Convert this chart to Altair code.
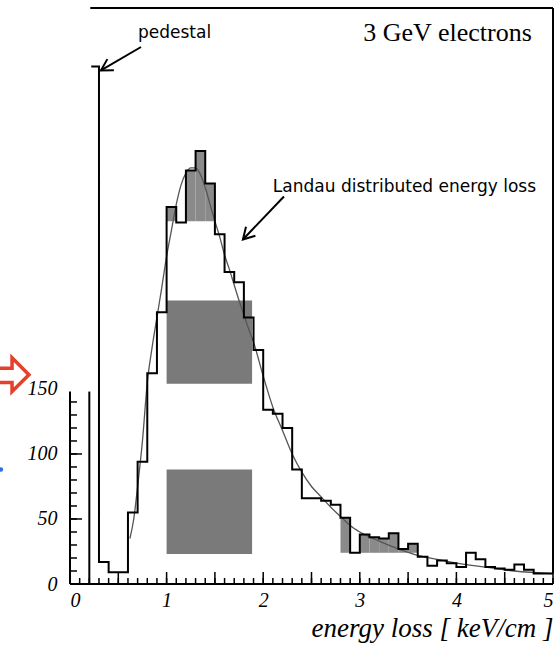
import altair as alt
import numpy as np
import pandas as pd

# ---------------------------------------------------------------------------
# Data: dE/dx spectrum of 3 GeV electrons, 0.1 keV/cm bins
# ---------------------------------------------------------------------------
bin_left = [0.2, 0.3, 0.4, 0.5, 0.6, 0.7, 0.8, 0.9,
            1.0, 1.1, 1.2, 1.3, 1.4, 1.5, 1.6, 1.7, 1.8, 1.9,
            2.0, 2.1, 2.2, 2.3, 2.4, 2.5, 2.6, 2.7, 2.8, 2.9,
            3.0, 3.1, 3.2, 3.3, 3.4, 3.5, 3.6, 3.7, 3.8, 3.9,
            4.0, 4.1, 4.2, 4.3, 4.4, 4.5, 4.6, 4.7, 4.8, 4.9]
bin_counts = [398, 17, 9, 9, 55, 94, 162, 209,
              290, 278, 318, 333, 308, 269, 240, 232, 205, 180,
              134, 131, 120, 88, 66, 66, 64, 61, 51, 24,
              38, 36, 35, 39, 27, 31, 21, 14, 18, 16,
              13, 24, 19, 13, 12, 11, 15, 11, 8, 8]
BIN_W = 0.1

# Landau fit to the spectrum
fit_x = [0.62, 0.66, 0.70, 0.75, 0.80, 0.85, 0.90, 0.95, 1.00, 1.05, 1.10,
         1.15, 1.20, 1.25, 1.30, 1.35, 1.40, 1.45, 1.50, 1.55, 1.60, 1.65,
         1.70, 1.75, 1.80, 1.85, 1.90, 2.00, 2.10, 2.20, 2.30, 2.40, 2.50,
         2.60, 2.70, 2.80, 2.90, 3.00, 3.20, 3.40, 3.60, 3.80, 4.00, 4.30,
         4.60, 5.00]
fit_y = [35, 50, 75, 110, 155, 182, 205, 228, 252, 272, 292,
         307, 316, 320, 320, 315, 305, 292, 279, 267, 253, 242,
         230, 218, 207, 196, 186, 160, 136, 118, 100, 86, 75,
         67, 59, 52, 45, 40, 33, 27, 22, 19, 16, 13,
         10, 8]

# bins drawn hatched above a floor level
shade_peak_bins = [1.0, 1.2, 1.3, 1.4]
shade_peak_floor = 279
shade_tail_bins = [2.8, 3.0, 3.1, 3.2, 3.3, 3.4, 3.5]
shade_tail_floor = 24

# hatched boxes inside the peak region
box_x0 = [1.0, 1.0]
box_x1 = [1.885, 1.885]
box_y0 = [154, 23]
box_y1 = [218, 88]

# axis ticks and labels
x_labels = [0, 1, 2, 3, 4, 5]
x_minor = [round(0.1 * i, 1) for i in range(51)]
x_major = [round(0.5 * i, 1) for i in range(11)]
y_labels = [0, 50, 100, 150]
y_minor = [10 * i for i in range(15)]
y_major = [0, 50, 100]

LOWER_TOP = 148          # the lower panel's y axis ends here
PEDESTAL_TOP_FROM = 0.22
FRAME_TOP = 443
FRAME_LEFT = 0.21
FRAME_BOTTOM_RIGHT = 8

# ---------------------------------------------------------------------------
W, H = 483, 576
X_DOM = [0, 5]
Y_DOM = [0, FRAME_TOP]
PX_X = W / (X_DOM[1] - X_DOM[0])
PX_Y = H / (Y_DOM[1] - Y_DOM[0])

xs = alt.Scale(domain=X_DOM, nice=False, zero=False)
ys = alt.Scale(domain=Y_DOM, nice=False, zero=False)

SERIF = "Liberation Serif"
SANS = "DejaVu Sans"

x_axis = alt.Axis(
    values=x_labels, ticks=False, grid=False, domain=False,
    labelFont=SERIF, labelFontStyle="italic", labelFontSize=20, labelColor="black", labelPadding=6,
    title="energy loss [ keV/cm ]", titleFont=SERIF, titleFontStyle="italic", titleFontWeight="normal",
    titleFontSize=27, titleColor="black", titleAnchor="end", titlePadding=5)
y_axis = alt.Axis(
    values=y_labels, ticks=False, grid=False, domain=False,
    labelFont=SERIF, labelFontStyle="italic", labelFontSize=20, labelColor="black", labelPadding=13,
    title="")

counts = dict(zip(bin_left, bin_counts))

# histogram outline as a polyline
pts = [(PEDESTAL_TOP_FROM, bin_counts[0]), (bin_left[0] + BIN_W, bin_counts[0])]
for l, c in zip(bin_left[1:], bin_counts[1:]):
    pts.append((l, c))
    pts.append((round(l + BIN_W, 2), c))
outline = pd.DataFrame({"x": [p[0] for p in pts], "y": [p[1] for p in pts],
                        "o": list(range(len(pts)))})

shade = pd.DataFrame(
    [{"x0": b, "x1": b + BIN_W, "y0": shade_peak_floor, "y1": counts[b]} for b in shade_peak_bins]
    + [{"x0": b, "x1": b + BIN_W, "y0": shade_tail_floor, "y1": counts[b]} for b in shade_tail_bins]
)
boxes = pd.DataFrame({"x0": box_x0, "x1": box_x1, "y0": box_y0, "y1": box_y1})
fit = pd.DataFrame({"x": fit_x, "y": fit_y})

# frame pieces: top and right border, x axis line, short y axis, cut pedestal edge
frame = pd.DataFrame([
    {"x": FRAME_LEFT, "x2": X_DOM[1], "y": FRAME_TOP, "y2": FRAME_TOP},
    {"x": X_DOM[1], "x2": X_DOM[1], "y": FRAME_BOTTOM_RIGHT, "y2": FRAME_TOP},
    {"x": X_DOM[0], "x2": X_DOM[1], "y": 0, "y2": 0},
    {"x": 0, "x2": 0, "y": 0, "y2": LOWER_TOP},
    {"x": bin_left[0], "x2": bin_left[0], "y": 0, "y2": LOWER_TOP},
])


def arrow(name, x0, y0, x1, y1, head=13, spread=30):
    """Shaft plus an open V head at (x1, y1), head size in pixels."""
    ang = np.arctan2((y1 - y0) * PX_Y, (x1 - x0) * PX_X)
    rows = [{"g": name + "s", "o": 0, "x": x0, "y": y0},
            {"g": name + "s", "o": 1, "x": x1, "y": y1}]
    a1 = ang + np.pi + np.radians(spread)
    a2 = ang + np.pi - np.radians(spread)
    rows += [
        {"g": name + "h", "o": 0, "x": x1 + head * np.cos(a1) / PX_X, "y": y1 + head * np.sin(a1) / PX_Y},
        {"g": name + "h", "o": 1, "x": x1, "y": y1},
        {"g": name + "h", "o": 2, "x": x1 + head * np.cos(a2) / PX_X, "y": y1 + head * np.sin(a2) / PX_Y},
    ]
    return rows


arrows = pd.DataFrame(arrow("ped", 0.735, 413, 0.32, 395) + arrow("lan", 2.215, 298, 1.79, 265))

# red outline arrow and blue marker in the left margin
red_x = [-0.78, -0.60, -0.60, -0.425, -0.60, -0.60, -0.78]
red_y = [166, 166, 174, 161, 148, 155, 155]
red = pd.DataFrame({"x": red_x, "y": red_y, "o": list(range(len(red_x)))})
blue = pd.DataFrame({"x": [-0.715], "y": [88]})

texts = pd.DataFrame([
    {"t": "pedestal", "x": 0.704, "y": 424},
    {"t": "Landau distributed energy loss", "x": 2.10, "y": 305},
])
title_df = pd.DataFrame([{"t": "3 GeV electrons", "x": 4.78, "y": 424}])

# ---------------------------------------------------------------------------
X0 = lambda f: alt.X(f, type="quantitative", scale=xs, axis=x_axis)
Y0 = lambda f: alt.Y(f, type="quantitative", scale=ys, axis=y_axis)

box_layer = alt.Chart(boxes).mark_rect(color="#7a7a7a").encode(
    x=X0("x0"), x2="x1", y=Y0("y0"), y2="y1")
shade_layer = alt.Chart(shade).mark_rect(color="#8a8a8a").encode(
    x=X0("x0"), x2="x1", y=Y0("y0"), y2="y1")
fit_layer = alt.Chart(fit).mark_line(color="#555555", strokeWidth=1.3, interpolate="monotone").encode(
    x=X0("x"), y=Y0("y"))

outline_layer = alt.Chart(outline).mark_line(color="black", strokeWidth=2, strokeJoin="miter").encode(
    x=X0("x"), y=Y0("y"), order="o:Q")

frame_layer = alt.Chart(frame).mark_rule(color="black", strokeWidth=2).encode(
    x=X0("x"), x2="x2", y=Y0("y"), y2="y2")

xt_minor = alt.Chart(pd.DataFrame({"x": x_minor})).mark_rule(color="black", strokeWidth=1.5).encode(
    x=X0("x"), y=alt.value(H), y2=alt.value(H - 6))
xt_major = alt.Chart(pd.DataFrame({"x": x_major})).mark_rule(color="black", strokeWidth=1.5).encode(
    x=X0("x"), y=alt.value(H), y2=alt.value(H - 12))
yt_minor = alt.Chart(pd.DataFrame({"y": y_minor})).mark_rule(color="black", strokeWidth=1.5).encode(
    y=Y0("y"), x=alt.value(0), x2=alt.value(7))
yt_major = alt.Chart(pd.DataFrame({"y": y_major})).mark_rule(color="black", strokeWidth=1.5).encode(
    y=Y0("y"), x=alt.value(0), x2=alt.value(12))

arrow_layer = alt.Chart(arrows).mark_line(color="black", strokeWidth=2).encode(
    x=X0("x"), y=Y0("y"), detail="g:N", order="o:Q")
red_layer = alt.Chart(red).mark_line(color="#e4402a", strokeWidth=3.5, strokeJoin="miter").encode(
    x=X0("x"), y=Y0("y"), order="o:Q")
blue_layer = alt.Chart(blue).mark_point(filled=True, color="#2f6fe0", size=20, opacity=1).encode(
    x=X0("x"), y=Y0("y"))

label_layer = alt.Chart(texts).mark_text(font=SANS, fontSize=17, align="left", baseline="middle",
                                         color="black").encode(x=X0("x"), y=Y0("y"), text="t:N")
title_layer = alt.Chart(title_df).mark_text(font=SERIF, fontSize=26, align="right", baseline="middle",
                                            color="black").encode(x=X0("x"), y=Y0("y"), text="t:N")

chart = alt.layer(
    box_layer, shade_layer, fit_layer, outline_layer, frame_layer,
    xt_minor, xt_major, yt_minor, yt_major,
    arrow_layer, red_layer, blue_layer, label_layer, title_layer,
).properties(
    width=W, height=H,
    background="white",
    autosize=alt.AutoSizeParams(type="none"),
    padding={"left": 70, "top": 8, "right": 3, "bottom": 62},
).configure_view(
    strokeWidth=0, stroke="transparent"
).configure_axis(
    domain=False, grid=False, ticks=False
)

chart.save("out.html", embed_options={"renderer": "svg", "actions": False})
